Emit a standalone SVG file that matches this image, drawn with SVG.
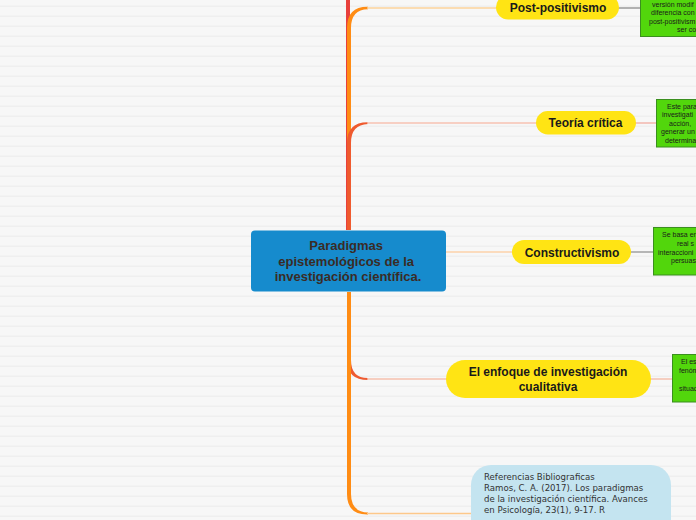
<svg xmlns="http://www.w3.org/2000/svg" width="696" height="520" viewBox="0 0 696 520">
<defs>
<pattern id="bg" width="10" height="10" patternUnits="userSpaceOnUse" y="0">
<rect width="10" height="10" fill="#f7f7f7"/>
<rect y="5.5" width="10" height="1.5" fill="#efefef"/>
</pattern>
<style>
.pill{fill:#ffe414}
.pt{font-family:"Liberation Sans",Arial,sans-serif;font-weight:bold;font-size:12px;fill:#1a1a1a;text-anchor:middle}
.gb{fill:#52d60c;stroke:#3b8f1f;stroke-width:1}
.gt{font-family:"Liberation Sans",Arial,sans-serif;font-size:7px;fill:#1a1a1a}
.thin{fill:none;stroke-width:1.5}
</style>
</defs>
<rect width="696" height="520" fill="url(#bg)"/>
<g id="connectors">
<rect x="346" y="-5" width="4" height="235" fill="#e8403c"/>
<path d="M347,230 V28 Q347,6.5 368,6.8 L368,9.2 Q351,9.5 351,28 V230 Z" fill="#ff8c14"/>
<path d="M347,230 V143 Q347,122 368,122.2 L368,124 Q351,124.5 351,143 V230 Z" fill="#ef5a2e"/>
<path d="M347,292 V360 Q347,380 368,380 L368,378 Q351,378 351,360 V292 Z" fill="#ee5a30"/>
<path d="M347,292 V494 Q347,515 368,514.5 L368,512.5 Q351,512 351,494 V292 Z" fill="#ff8c14"/>
<line class="thin" x1="367" y1="8" x2="497" y2="8" stroke="#fcd39b"/>
<line class="thin" x1="367" y1="123" x2="537" y2="123" stroke="#f7c2b2"/>
<line class="thin" x1="445" y1="252" x2="513" y2="252" stroke="#fcd2aa"/>
<line class="thin" x1="367" y1="379" x2="447" y2="379" stroke="#f6c0ae"/>
<line class="thin" x1="367" y1="513.5" x2="472" y2="513.5" stroke="#fdc88a"/>
<line class="thin" x1="618" y1="8" x2="641" y2="8" stroke="#9a9a9a"/>
<line class="thin" x1="635" y1="123" x2="657" y2="123" stroke="#f2b6ac"/>
<line class="thin" x1="630" y1="252" x2="654" y2="252" stroke="#a0a0a0"/>
<line class="thin" x1="650" y1="379" x2="673" y2="379" stroke="#f5c0ae"/>
</g>
<g id="center">
<rect x="251" y="230.5" width="195" height="61" rx="4" fill="#168bcd"/>
<text font-family="Liberation Sans,Arial,sans-serif" font-weight="bold" font-size="13" fill="#3a2b26" text-anchor="middle">
<tspan x="348" y="250">Paradigmas</tspan>
<tspan x="348" y="265.5">epistemológicos de la</tspan>
<tspan x="348" y="281">investigación científica.</tspan>
</text>
</g>
<g id="post">
<rect class="pill" x="496" y="-5" width="123" height="24.5" rx="12.25"/>
<text class="pt" x="558" y="12">Post-positivismo</text>
</g>
<g id="teoria">
<rect class="pill" x="536" y="111" width="100" height="23.5" rx="11.75"/>
<text class="pt" x="585.5" y="127">Teoría crítica</text>
</g>
<g id="constructivismo">
<rect class="pill" x="512" y="240" width="119" height="24" rx="12"/>
<text class="pt" x="572" y="256.5">Constructivismo</text>
</g>
<g id="enfoque">
<rect class="pill" x="446" y="360" width="205" height="38" rx="19"/>
<text class="pt"><tspan x="548" y="376">El enfoque de investigación</tspan><tspan x="548" y="391">cualitativa</tspan></text>
</g>
<g id="referencias">
<rect x="471" y="465" width="200" height="75" rx="20" fill="#c4e4f0"/>
<text font-family="DejaVu Sans,Verdana,sans-serif" font-size="8.6" fill="#333">
<tspan x="484" y="479.5">Referencias Bibliograficas</tspan>
<tspan x="484" y="490.5">Ramos, C. A. (2017). Los paradigmas</tspan>
<tspan x="484" y="501.5">de la investigación científica. Avances</tspan>
<tspan x="484" y="512.5">en Psicología, 23(1), 9-17. R</tspan>
</text>
</g>
<g id="note-post">
<rect class="gb" x="640.5" y="-5" width="80" height="41.5"/>
<text class="gt"><tspan x="652" y="7">versión modif</tspan><tspan x="651" y="15.3">diferencia con</tspan><tspan x="649" y="23.6">post-positivism</tspan><tspan x="677" y="31.9">ser co</tspan></text>
</g>
<g id="note-teoria">
<rect class="gb" x="656.5" y="99.5" width="70" height="47.5"/>
<text class="gt"><tspan x="667" y="108.5">Este para</tspan><tspan x="662" y="117">investigati</tspan><tspan x="669" y="125.5">acción, </tspan><tspan x="661" y="134">generar un</tspan><tspan x="665" y="142.5">determina</tspan></text>
</g>
<g id="note-constructivismo">
<rect class="gb" x="653.5" y="227.5" width="70" height="47.5"/>
<text class="gt"><tspan x="662" y="237">Se basa en</tspan><tspan x="677" y="245.5">real s</tspan><tspan x="658" y="254.5">interaccioni</tspan><tspan x="671" y="263">persuas</tspan></text>
</g>
<g id="note-enfoque">
<rect class="gb" x="672.5" y="354.5" width="60" height="47.5"/>
<text class="gt"><tspan x="681" y="363.5">El es</tspan><tspan x="679" y="372.5">fenóm</tspan><tspan x="679" y="390.5">situac</tspan></text>
</g>
</svg>
